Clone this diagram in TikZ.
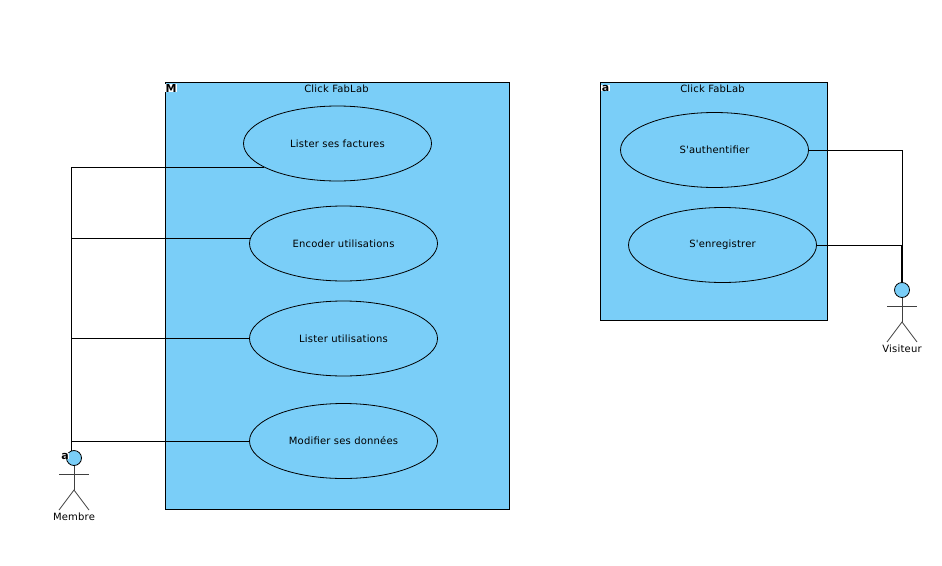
\documentclass[tikz,border=0pt]{standalone}
\usepackage{fontspec}
\defaultfontfeatures[\rmfamily]{}
\setmainfont[Ligatures=ResetAll,LetterSpace=2]{DejaVu Sans}
\usetikzlibrary{shapes.geometric}
\definecolor{boxblue}{HTML}{7ACEF8}
\tikzset{
    sysbox/.style={draw, fill=boxblue, line width=0.8pt},
    usecase/.style={draw, ellipse, fill=boxblue, line width=0.8pt, minimum width=188pt, minimum height=75pt, inner sep=0pt, font=\fontsize{10}{12}\selectfont},
    caption/.style={inner sep=0pt, font=\fontsize{10}{12}\selectfont},
    link/.style={line width=0.8pt},
    figure/.style={line width=0.8pt, color=black!75},
    badge/.style={fill=white, inner sep=0.3pt, font=\fontsize{11}{12}\selectfont\bfseries}
}
\newcommand{\stickman}[3]{
    \draw [figure] (#1,#2+7.5) -- (#1,#2+32) (#1-15,#2+16) -- (#1+15,#2+16);
    \draw [figure] (#1-15,#2+52) -- (#1,#2+32) -- (#1+15,#2+52);
    \node [circle, draw, fill=boxblue, line width=0.8pt, minimum size=15pt, inner sep=0pt] (#3) at (#1,#2) {};
}
\begin{document}
\begin{tikzpicture}[x=1pt,y=-1pt]
    \useasboundingbox (0,0) rectangle (942,565);

    \draw [sysbox] (165,82) rectangle (509,509);
    \draw [sysbox] (600,82) rectangle (827,320);

    \node [caption] (titleM) at (336.5,89) {Click FabLab};
    \node [caption] (titleV) at (712.5,89) {Click FabLab};
    \node [badge] (badgeM) at (171,88) {M};
    \node [badge] (badgeV) at (605.5,88) {a};

    \node [usecase] (factures) at (337.5,143.5) {Lister ses factures};
    \node [usecase] (encoder) at (343.5,243.5) {Encoder utilisations};
    \node [usecase] (lister) at (343.5,338.5) {Lister utilisations};
    \node [usecase] (modifier) at (343.5,441) {Modifier ses données};
    \node [usecase] (auth) at (714.5,150) {S'authentifier};
    \node [usecase] (enreg) at (722.5,245) {S'enregistrer};

    \stickman{74}{458}{membre}
    \stickman{902}{290}{visiteur}
    \node [caption] (labelM) at (74,517) {Membre};
    \node [caption] (labelV) at (902,349) {Visiteur};
    \node [badge, opacity=0.9, text opacity=1] (badgeA) at (65,456) {a};

    \coordinate (membreTop) at (71.5,451);
    \coordinate (visiteurTop) at (902,283);
    \coordinate (visiteurTopB) at (901,283);

    \draw [link] (membreTop) |- (factures.198);
    \draw [link] (membreTop) |- (encoder.177);
    \draw [link] (membreTop) |- (lister.west);
    \draw [link] (membreTop) |- (modifier.west);
    \draw [link] (auth.0.6) -| (visiteurTop);
    \draw [link] (enreg.-0.6) -| (visiteurTopB);
\end{tikzpicture}
\end{document}
